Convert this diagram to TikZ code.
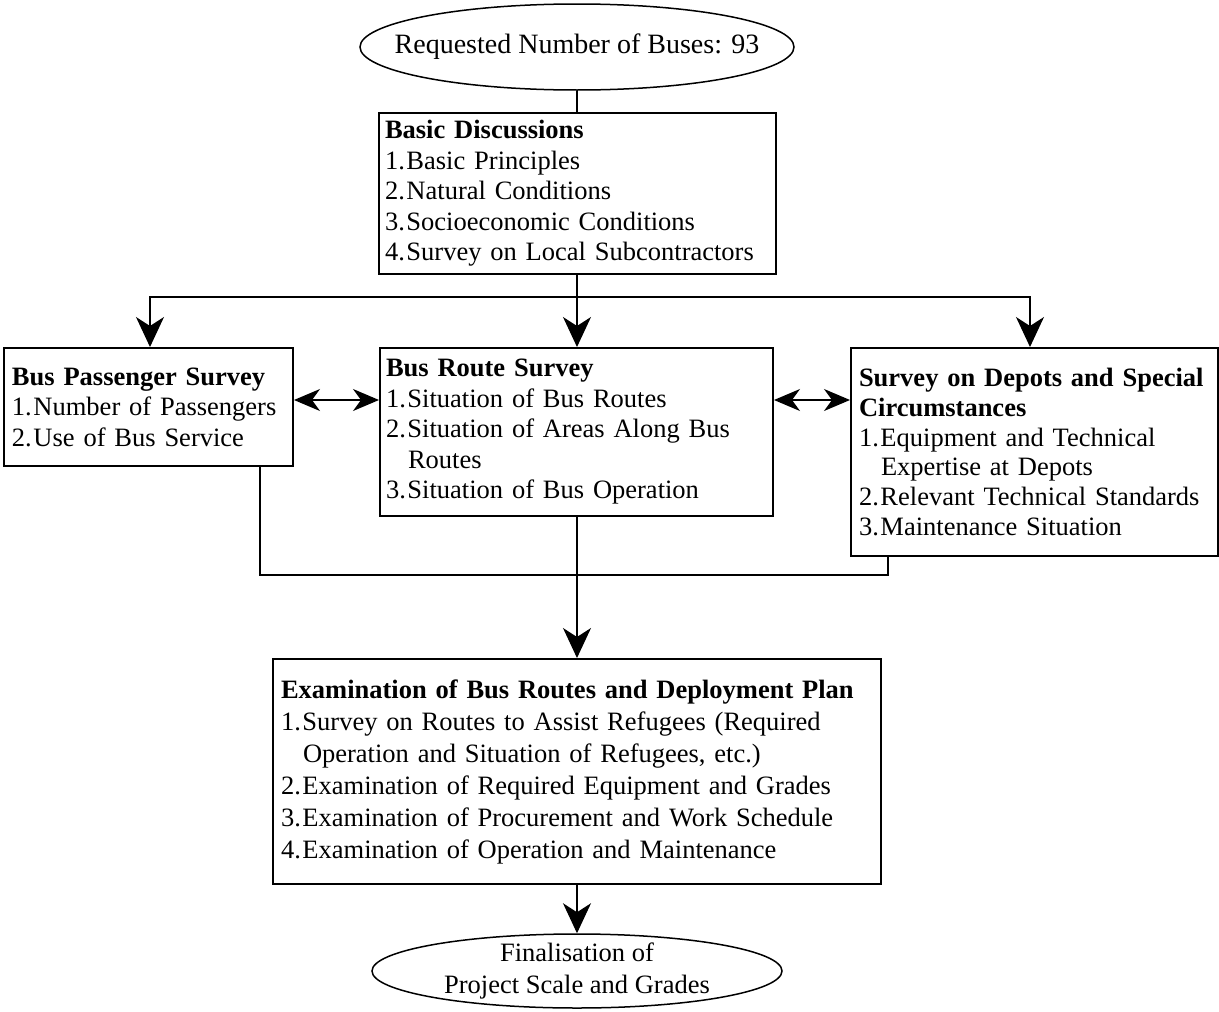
\documentclass[tikz,border=0pt]{standalone}
\usepackage{fontspec}
\setmainfont{Liberation Serif}
\usetikzlibrary{arrows.meta,shapes.geometric}
\newcommand\itm[2]{\par\noindent\makebox[21.5pt][l]{#1}#2}
\newcommand\cnt[1]{\par\noindent\hspace*{22pt}#1}
\begin{document}
\begin{tikzpicture}[x=1pt,y=-1pt,
  every node/.style={font=\fontsize{26.5}{30.5}\selectfont},
  box/.style={draw,line width=2pt,anchor=north west,inner xsep=6pt,inner ysep=4pt,align=left},
  ell/.style={draw,ellipse,line width=1.5pt,inner sep=0pt},
  conn/.style={line width=1.2pt},
  arr/.style={conn,-{Stealth[length=30pt,width=28pt,inset=9pt]}},
  darr/.style={conn,{Stealth[length=26pt,width=22pt,inset=8pt]}-{Stealth[length=26pt,width=22pt,inset=8pt]}}]
\useasboundingbox (0,0) rectangle (1219,1012);
\node[ell,minimum width=434pt,minimum height=86pt,label={[font=\fontsize{28}{32}\selectfont]center:Requested Number of Buses: 93}] (req) at (577,47) {};
\node[box,text width=385pt,minimum height=161pt] (basic) at (378,112) {\textbf{Basic Discussions}\itm{1.}{Basic Principles}\itm{2.}{Natural Conditions}\itm{3.}{Socioeconomic Conditions}\itm{4.}{Survey on Local Subcontractors}};
\node[box,text width=273pt,minimum height=118pt,inner xsep=8pt] (pass) at (3,347) {\textbf{Bus Passenger Survey}\itm{1.}{Number of Passengers}\itm{2.}{Use of Bus Service}};
\node[box,text width=381pt,minimum height=168pt,inner xsep=6pt] (route) at (379,347) {\textbf{Bus Route Survey}\itm{1.}{Situation of Bus Routes}\itm{2.}{Situation of Areas Along Bus}\cnt{Routes}\itm{3.}{Situation of Bus Operation}};
\node[box,text width=351pt,minimum height=208pt,inner xsep=8pt,font=\fontsize{26.5}{29.8}\selectfont] (depot) at (850,347) {\textbf{Survey on Depots and Special}\par\noindent\textbf{Circumstances}\itm{1.}{Equipment and Technical}\cnt{Expertise at Depots}\itm{2.}{Relevant Technical Standards}\itm{3.}{Maintenance Situation}};
\node[box,text width=592pt,minimum height=225pt,inner xsep=8pt,font=\fontsize{26.5}{32}\selectfont] (exam) at (272,658) {\textbf{Examination of Bus Routes and Deployment Plan}\itm{1.}{Survey on Routes to Assist Refugees (Required}\cnt{Operation and Situation of Refugees, etc.)}\itm{2.}{Examination of Required Equipment and Grades}\itm{3.}{Examination of Procurement and Work Schedule}\itm{4.}{Examination of Operation and Maintenance}};
\node[ell,minimum width=410pt,minimum height=74pt,label={[align=center,font=\fontsize{26.5}{32.5}\selectfont]center:Finalisation of\\Project Scale and Grades}] (fin) at (577,971) {};
\coordinate (split) at (577,297);
\coordinate (sL) at (150,297);
\coordinate (sR) at (1030,297);
\coordinate (dy) at (0,400);
\coordinate (mL) at (260,575);
\coordinate (mR) at (888,575);
\draw[conn] (req.south) -- (req.south |- basic.north);
\draw[arr] (basic.south -| split) -- (route.north -| split);
\draw[arr] (split) -- (sL) -- (pass.north -| sL);
\draw[arr] (split) -- (sR) -- (depot.north -| sR);
\draw[darr] (pass.east |- dy) -- (route.west |- dy);
\draw[darr] (route.east |- dy) -- (depot.west |- dy);
\draw[conn] (pass.south -| mL) -- (mL) -- (mR) -- (depot.south -| mR);
\draw[arr] (route.south -| split) -- (exam.north -| split);
\draw[arr] (exam.south -| split) -- (fin.north);
\end{tikzpicture}
\end{document}
